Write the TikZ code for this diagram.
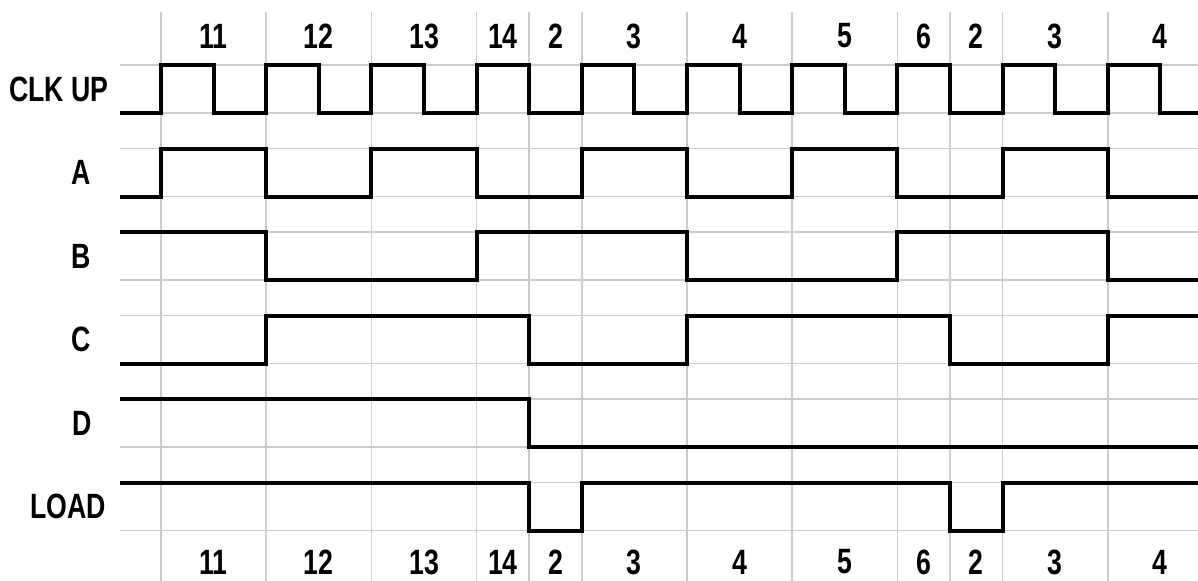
\documentclass[tikz,border=0pt]{standalone}
\usepackage{fontspec}
\newfontfamily\sigfont{Liberation Sans}[FakeStretch=0.76]
\usepackage{tikz}
\usetikzlibrary{positioning}

\begin{document}
\begin{tikzpicture}[
  x=1.315cm, y=1.2cm,
  wave/.style={
    draw=black, line width=2.85pt, line join=miter
  },
  gridline/.style={
    draw=gray!40, line width=1.1pt
  },
  lbl/.style={
    font=\sigfont\bfseries\fontsize{25}{25}\selectfont,
    inner sep=0pt, text=black
  }
]
  \useasboundingbox (-3.061,-9.75) rectangle (19.715,2.354);

  % grid
  \foreach \t in {0,2,4,6,7,8,10,12,14,15,16,18}
    \draw[gridline] (\t,2.104) -- (\t,-9.75);
  \foreach \k in {0,...,5} {
    \draw[gridline] (-0.78,-1.74*\k) -- (19.715,-1.74*\k);
    \draw[gridline] (-0.78,-1.74*\k+1) -- (19.715,-1.74*\k+1);
  }

  % count numbers, top and bottom
  \foreach \t/\n [count=\i] in {1/11, 3/12, 5/13, 6.5/14, 7.5/2, 9/3,
                                11/4, 13/5, 14.5/6, 15.5/2, 17/3, 19/4} {
    \node[lbl] (top-\i) at (\t,1.604) {\n};
    \node[lbl] (bot-\i) at (\t,-9.354) {\n};
  }

  % signal names
  \node[lbl] (clk)  at (-1.94, 0.5)   {CLK UP};
  \node[lbl] (siga) at (-1.52,-1.24)  {A};
  \node[lbl] (sigb) at (-1.52,-2.98)  {B};
  \node[lbl] (sigc) at (-1.52,-4.72)  {C};
  \node[lbl] (sigd) at (-1.50,-6.46)  {D};
  \node[lbl] (load) at (-1.77,-8.20)  {LOAD};

  % waveforms
  \draw[wave] (-0.78,0) \foreach \t in {0,2,...,18} { -| (\t,1) -| (\t+1,0) }
    -- (19.715,0);
  \draw[wave, shift={(0,-1.74)}] (-0.78,0) -| (0,1) -| (2,0) -| (4,1) -| (6,0)
    -| (8,1) -| (10,0) -| (12,1) -| (14,0) -| (16,1) -| (18,0) -- (19.715,0);
  \draw[wave, shift={(0,-3.48)}] (-0.78,1) -| (2,0) -| (6,1) -| (10,0)
    -| (14,1) -| (18,0) -- (19.715,0);
  \draw[wave, shift={(0,-5.22)}] (-0.78,0) -| (2,1) -| (7,0) -| (10,1)
    -| (15,0) -| (18,1) -- (19.715,1);
  \draw[wave, shift={(0,-6.96)}] (-0.78,1) -| (7,0) -- (19.715,0);
  \draw[wave, shift={(0,-8.70)}] (-0.78,1) -| (7,0) -| (8,1) -| (15,0)
    -| (16,1) -- (19.715,1);
\end{tikzpicture}
\end{document}
